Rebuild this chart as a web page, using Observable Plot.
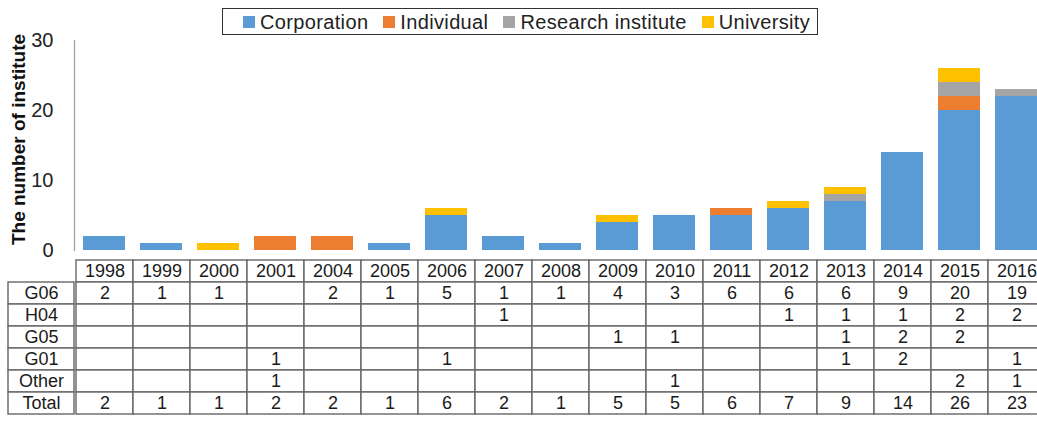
<!DOCTYPE html>
<html>
<head>
<meta charset="utf-8">
<script src="https://cdn.jsdelivr.net/npm/d3@7"></script>
<script src="https://cdn.jsdelivr.net/npm/@observablehq/plot@0.6"></script>
<style>
  html, body { margin: 0; padding: 0; background: #fff; overflow: hidden; }
  body { font-family: "Liberation Sans", Arial, sans-serif; }
  #wrap { position: relative; width: 1046px; }
  #legend { position: absolute; left: 222px; top: 8px; height: 27px; box-sizing: border-box;
            border: 1.5px solid #333; padding: 0 7px 0 20px; display: flex; align-items: center; background: #fff; }
  #legend .lg-swatches { min-height: 0 !important; margin: 0 !important; font-size: 20px !important;
            letter-spacing: 0.35px; font-family: "Liberation Sans", Arial, sans-serif !important; color: #222;
            display: flex; align-items: center; flex-wrap: nowrap !important; }
  #legend .lg-swatch { margin-right: 15px !important; line-height: 1; }
  #legend .lg-swatch:last-of-type { margin-right: 0 !important; }
  #legend .lg-swatch > svg { margin-right: 5px !important; }
  #table { display: flex; width: 1046px; }
  #table svg { flex: none; max-width: none !important; }
  #wrap svg { max-width: none !important; }
</style>
</head>
<body>
<div id="wrap">
  <div id="chart"></div>
  <div id="legend"></div>
  <div id="table"></div>
</div>
<script>
// ---- data ----
const years = ["1998","1999","2000","2001","2004","2005","2006","2007","2008","2009","2010","2011","2012","2013","2014","2015","2016"];
const types = ["Corporation", "Individual", "Research institute", "University"];
const colors = ["#5B9BD5", "#ED7D31", "#A5A5A5", "#FFC000"];
const corporation = [2,1,0,0,0,1,5,2,1,4,5,5,6,7,14,20,22];
const individual  = [0,0,0,2,2,0,0,0,0,0,0,1,0,0,0,2,0];
const research    = [0,0,0,0,0,0,0,0,0,0,0,0,0,1,0,2,1];
const university  = [0,0,1,0,0,0,1,0,0,1,0,0,1,1,0,2,0];
const yTicks = [0, 10, 20, 30];
const yTitle = "The number of institute";

const rowLabels = ["G06", "H04", "G05", "G01", "Other", "Total"];
const g06   = [2,1,1,null,2,1,5,1,1,4,3,6,6,6,9,20,19];
const h04   = [null,null,null,null,null,null,null,1,null,null,null,null,1,1,1,2,2];
const g05   = [null,null,null,null,null,null,null,null,null,1,1,null,null,1,2,2,null];
const g01   = [null,null,null,1,null,null,1,null,null,null,null,null,null,1,2,null,1];
const other = [null,null,null,1,null,null,null,null,null,null,1,null,null,null,null,2,1];
const total = [2,1,1,2,2,1,6,2,1,5,5,6,7,9,14,26,23];

// ---- build tables ----
const series = [corporation, individual, research, university];
const bars = [];
types.forEach((t, k) => years.forEach((yr, i) => {
  if (series[k][i] > 0) bars.push({year: yr, type: t, value: series[k][i]});
}));

const headerKey = "Year";
const yDomain = [headerKey, ...rowLabels];
const rowValues = [g06, h04, g05, g01, other, total];
const cells = [];
years.forEach((yr) => cells.push({year: yr, row: headerKey, text: yr}));
rowLabels.forEach((r, k) => years.forEach((yr, i) => {
  const v = rowValues[k][i];
  cells.push({year: yr, row: r, text: v == null ? null : String(v)});
}));

// ---- layout ----
const FONT = "'Liberation Sans', Arial, sans-serif";
const W = 1046, LEFT = 74;
const BORDER = "#666";

const chart = Plot.plot({
  width: W, height: 256,
  marginTop: 40, marginBottom: 6, marginLeft: LEFT, marginRight: 0,
  style: {fontFamily: FONT, color: "#222", background: "transparent", overflow: "visible"},
  x: {domain: years, paddingInner: 0.27, paddingOuter: 0.135, axis: null},
  y: {domain: [0, 30], axis: null},
  color: {domain: types, range: colors},
  marks: [
    Plot.barY(bars, {x: "year", y: "value", fill: "type"}),
    Plot.axisY({ticks: yTicks, tickSize: 0, tickPadding: 21, fontSize: 20, label: null, fill: "#222"}),
    Plot.frame({anchor: "left", stroke: "#a0a0a0", strokeWidth: 1.3}),
    Plot.text([yTitle], {text: d => d, frameAnchor: "left", textAnchor: "middle", lineAnchor: "middle",
      rotate: -90, dx: -56, dy: -6, fontSize: 19, fontWeight: "bold", fill: "#111"})
  ]
});
document.getElementById("chart").appendChild(chart);

const legend = Plot.legend({
  color: {domain: types, range: colors},
  swatchSize: 12, className: "lg"
});
document.getElementById("legend").appendChild(legend);

const labelPlot = Plot.plot({
  width: LEFT, height: 162,
  marginLeft: 8, marginRight: 0, marginTop: 1, marginBottom: 1,
  style: {fontFamily: FONT, background: "transparent", overflow: "visible"},
  x: {domain: ["label"], padding: 0, axis: null},
  y: {domain: yDomain, padding: 0, axis: null},
  marks: [
    Plot.cell(rowLabels, {x: () => "label", y: d => d, fill: "white", stroke: BORDER, strokeWidth: 1.4, inset: 0}),
    Plot.text(rowLabels, {x: () => "label", y: d => d, text: d => d, fontSize: 18, fill: "#1a1a1a"})
  ]
});

const tablePlot = Plot.plot({
  width: W - LEFT, height: 162,
  marginLeft: 0, marginRight: 0, marginTop: 1, marginBottom: 1,
  style: {fontFamily: FONT, background: "transparent", overflow: "visible"},
  x: {domain: years, padding: 0, axis: null},
  y: {domain: yDomain, padding: 0, axis: null},
  marks: [
    Plot.cell(cells, {x: "year", y: "row", fill: "white", stroke: BORDER, strokeWidth: 1.4, inset: 0}),
    Plot.text(cells.filter(d => d.text != null), {x: "year", y: "row", text: "text", fontSize: 18, fill: "#1a1a1a"})
  ]
});
document.getElementById("table").appendChild(labelPlot);
document.getElementById("table").appendChild(tablePlot);
</script>
</body>
</html>
